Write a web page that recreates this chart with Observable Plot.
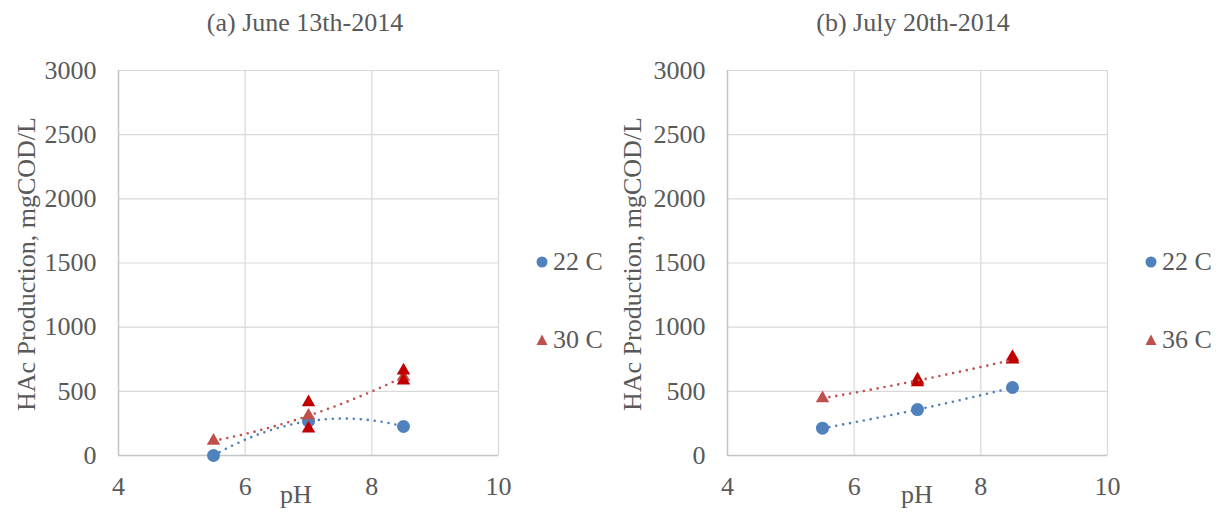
<!DOCTYPE html>
<html>
<head>
<meta charset="utf-8">
<script src="https://cdn.jsdelivr.net/npm/d3@7"></script>
<script src="https://cdn.jsdelivr.net/npm/@observablehq/plot@0.6"></script>
<style>
  html, body { margin: 0; padding: 0; background: #fff; }
  #root { position: relative; width: 1221px; height: 512px; overflow: hidden; color: #595959; }
  #root, #root *, #root svg text { font-family: "Liberation Serif", "Times New Roman", Times, serif !important; }
  #root svg text { font-size: 26px !important; fill: #595959; }
  .abs { position: absolute; white-space: nowrap; }
  .t { font-size: 26px; line-height: 26px; }
</style>
</head>
<body>
<div id="root"></div>
<script>
// ---------- data ----------
const phLevels = [5.5, 7, 8.5];
const xTicks = [4, 6, 8, 10];
const yTicks = [0, 500, 1000, 1500, 2000, 2500, 3000];

// Panel (a) June 13th-2014
const titleA = "(a) June 13th-2014";
const a22 = [0, 267, 226];            // 22 C
const a30mean = [115, 310, 612];      // 30 C (series points)
const a30repPH = [7, 7, 8.5, 8.5];    // 30 C replicates
const a30rep = [415, 210, 662, 584];

// Panel (b) July 20th-2014
const titleB = "(b) July 20th-2014";
const b22 = [213, 358, 530];          // 22 C
const b36mean = [446, 584, 746];      // 36 C
const b36repPH = [7, 7, 8.5, 8.5];
const b36rep = [592, 570, 768, 752];

const legendA = ["22 C", "30 C"];
const legendB = ["22 C", "36 C"];
const yLabel = "HAc Production, mgCOD/L";
const xLabel = "pH";

// ---------- helpers ----------
const BLUE = "#4f81bd", RED = "#c0504d", DARK = "#c00000";
const FONT = "Liberation Serif, Times New Roman, serif";

function polyfit2(xs, ys) {
  const S = (f) => d3.sum(xs.map((x, i) => f(x, ys[i])));
  const A = [
    [S(x => 1), S(x => x), S(x => x * x)],
    [S(x => x), S(x => x * x), S(x => x ** 3)],
    [S(x => x * x), S(x => x ** 3), S(x => x ** 4)]
  ];
  const b = [S((x, y) => y), S((x, y) => x * y), S((x, y) => x * x * y)];
  const n = 3, M = A.map((r, i) => [...r, b[i]]);
  for (let c = 0; c < n; c++) {
    let p = c; for (let r = c + 1; r < n; r++) if (Math.abs(M[r][c]) > Math.abs(M[p][c])) p = r;
    [M[c], M[p]] = [M[p], M[c]];
    for (let r = c + 1; r < n; r++) { const f = M[r][c] / M[c][c]; for (let k = c; k <= n; k++) M[r][k] -= f * M[c][k]; }
  }
  const co = [0, 0, 0];
  for (let r = n - 1; r >= 0; r--) { let s = M[r][n]; for (let k = r + 1; k < n; k++) s -= M[r][k] * co[k]; co[r] = s / M[r][r]; }
  return x => co[0] + co[1] * x + co[2] * x * x;
}
function trend(xs, ys) {
  const f = polyfit2(xs, ys);
  const lo = d3.min(xs), hi = d3.max(xs);
  return d3.range(0, 61).map(i => { const x = lo + (hi - lo) * i / 60; return {x, y: f(x)}; });
}
const pts = (xs, ys) => xs.map((x, i) => ({x, y: ys[i]}));

function makePlot(ml, mr, width, s1, s2mean, s2repX, s2rep) {
  const dotted = {strokeWidth: 2.6, strokeDasharray: "0,7", strokeLinecap: "round"};
  return Plot.plot({
    width, height: 512,
    marginLeft: ml, marginRight: mr, marginTop: 70, marginBottom: 57,
    x: {domain: [4, 10], ticks: xTicks, tickSize: 0, tickPadding: 21, label: null, tickFormat: d => String(d)},
    y: {domain: [0, 3000], ticks: yTicks, tickSize: 0, tickPadding: 22, label: null, tickFormat: d => String(d)},
    style: {fontFamily: FONT, fontSize: "26px", color: "#595959", background: "transparent", overflow: "visible"},
    marks: [
      Plot.ruleX(xTicks.slice(1), {stroke: "#d9d9d9", strokeWidth: 1.2}),
      Plot.ruleY(yTicks.slice(1), {stroke: "#d9d9d9", strokeWidth: 1.2}),
      Plot.ruleX([4], {stroke: "#c4c4c4", strokeWidth: 1.5}),
      Plot.ruleY([0], {stroke: "#c4c4c4", strokeWidth: 1.5}),
      Plot.dot(pts(phLevels, s1), {x: "x", y: "y", r: 6.5, fill: BLUE, stroke: null}),
      Plot.dot(pts(phLevels, s2mean), {x: "x", y: "y", r: 5, symbol: "triangle", fill: RED, stroke: null}),
      Plot.dot(pts(s2repX, s2rep), {x: "x", y: "y", r: 5, symbol: "triangle", fill: DARK, stroke: null}),
      Plot.line(trend(phLevels, s1), {x: "x", y: "y", ...dotted, stroke: BLUE}),
      Plot.line(trend(phLevels, s2mean), {x: "x", y: "y", ...dotted, stroke: RED})
    ]
  });
}

const root = document.getElementById("root");
function place(el, left, top) { el.style.position = "absolute"; el.style.left = left + "px"; el.style.top = top + "px"; root.appendChild(el); }
function text(str, cx, top, extra) {
  const d = document.createElement("div");
  d.className = "abs t";
  d.textContent = str;
  d.style.width = "400px"; d.style.textAlign = "center";
  d.style.left = (cx - 200) + "px"; d.style.top = top + "px";
  if (extra) Object.assign(d.style, extra);
  root.appendChild(d);
  return d;
}
function yLab(cx, cy) {
  text(yLabel, cx, cy - 13, {transform: "rotate(-90deg)", transformOrigin: "200px 13px"});
}
function legendItem(label, cx, cy, shape) {
  const ns = "http://www.w3.org/2000/svg";
  const s = document.createElementNS(ns, "svg");
  s.setAttribute("width", 14); s.setAttribute("height", 14);
  s.style.position = "absolute"; s.style.left = (cx - 7) + "px"; s.style.top = (cy - 7) + "px";
  let e;
  if (shape === "circle") {
    e = document.createElementNS(ns, "circle");
    e.setAttribute("cx", 7); e.setAttribute("cy", 7); e.setAttribute("r", 5.5); e.setAttribute("fill", BLUE);
  } else {
    e = document.createElementNS(ns, "polygon");
    e.setAttribute("points", "7,1.5 12.5,12 1.5,12"); e.setAttribute("fill", RED);
  }
  s.appendChild(e); root.appendChild(s);
  const d = document.createElement("div");
  d.className = "abs t"; d.textContent = label;
  d.style.left = (cx + 11) + "px"; d.style.top = (cy - 13) + "px";
  root.appendChild(d);
}

// Panel A
place(makePlot(118, 112, 610, a22, a30mean, a30repPH, a30rep), 0, 0);
text(titleA, 305, 10);
yLab(27, 264);
text(xLabel, 296, 482);
legendItem(legendA[0], 542, 262, "circle");
legendItem(legendA[1], 542, 340, "triangle");

// Panel B
place(makePlot(117, 114, 611, b22, b36mean, b36repPH, b36rep), 610, 0);
text(titleB, 913, 10);
yLab(633, 264);
text(xLabel, 917, 482);
legendItem(legendB[0], 1151, 262, "circle");
legendItem(legendB[1], 1151, 340, "triangle");
</script>
</body>
</html>
